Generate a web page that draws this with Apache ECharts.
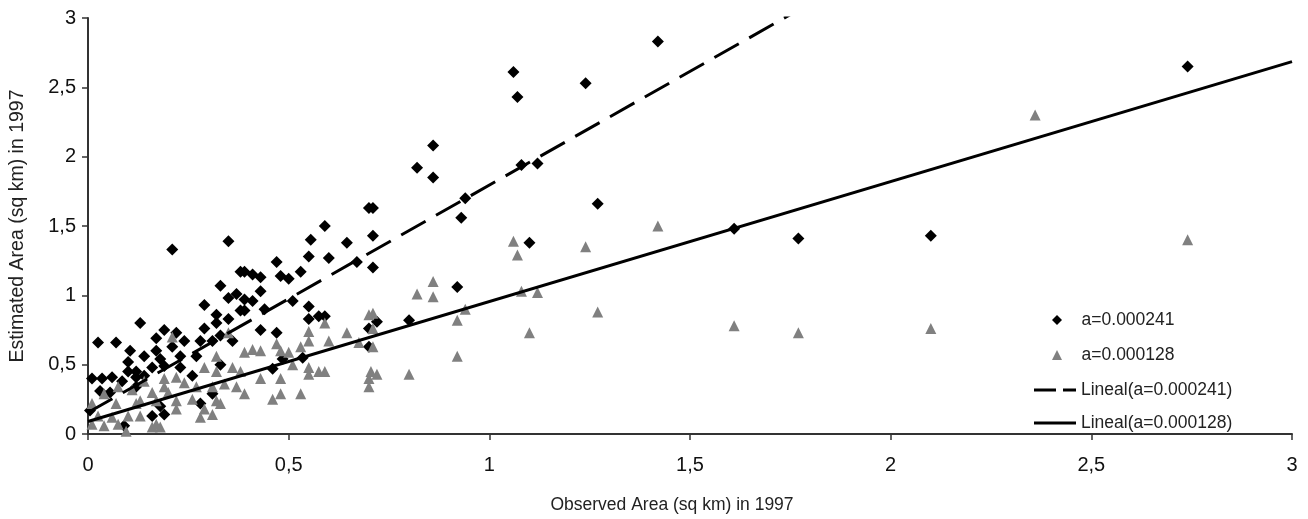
<!DOCTYPE html>
<html>
<head>
<meta charset="utf-8">
<script src="https://cdn.jsdelivr.net/npm/echarts@6/dist/echarts.min.js"></script>
<style>
  html, body { margin: 0; padding: 0; background: #fff; }
  #eChart { width: 1308px; height: 519px; }
</style>
</head>
<body>
<div id="eChart"></div>
<script>
// observed vs estimated area, a=0.000241 (diamonds)
const seriesA = [
  [2.74, 2.65], [1.06, 2.61], [1.07, 2.43], [1.24, 2.53], [1.42, 2.83], [1.08, 1.94],
  [1.12, 1.95], [1.27, 1.66], [1.10, 1.38], [1.61, 1.48], [1.77, 1.41], [2.10, 1.43],
  [0.94, 1.70], [0.93, 1.56], [0.92, 1.06], [0.80, 0.82], [0.86, 2.08], [0.82, 1.92],
  [0.86, 1.85], [0.70, 1.63], [0.71, 1.63], [0.59, 1.50], [0.555, 1.40], [0.645, 1.38],
  [0.71, 1.43], [0.47, 1.24], [0.55, 1.28], [0.60, 1.27], [0.67, 1.24], [0.71, 1.20],
  [0.53, 1.17], [0.48, 1.14], [0.50, 1.12], [0.39, 1.17], [0.41, 1.15], [0.43, 1.13],
  [0.43, 1.03], [0.39, 0.97], [0.41, 0.96], [0.39, 0.89], [0.44, 0.90], [0.51, 0.96],
  [0.55, 0.92], [0.55, 0.83], [0.575, 0.85], [0.59, 0.85], [0.43, 0.75], [0.47, 0.73],
  [0.70, 0.76], [0.72, 0.81], [0.485, 0.54], [0.535, 0.55], [0.46, 0.47], [0.70, 0.63],
  [0.21, 1.33], [0.35, 1.39], [0.38, 1.17], [0.33, 1.07], [0.35, 0.98], [0.37, 1.01],
  [0.38, 0.89], [0.29, 0.93], [0.32, 0.86], [0.35, 0.83], [0.32, 0.80], [0.29, 0.76],
  [0.13, 0.80], [0.19, 0.75], [0.22, 0.73], [0.17, 0.69], [0.24, 0.67], [0.21, 0.63],
  [0.28, 0.67], [0.31, 0.67], [0.33, 0.71], [0.36, 0.67], [0.025, 0.66], [0.07, 0.66],
  [0.105, 0.60], [0.14, 0.56], [0.17, 0.60], [0.18, 0.54], [0.19, 0.49], [0.23, 0.56],
  [0.27, 0.56], [0.23, 0.48], [0.10, 0.52], [0.16, 0.48], [0.12, 0.45], [0.10, 0.45],
  [0.01, 0.40], [0.035, 0.40], [0.06, 0.41], [0.085, 0.38], [0.12, 0.41], [0.14, 0.42],
  [0.26, 0.42], [0.33, 0.50], [0.03, 0.31], [0.055, 0.30], [0.12, 0.34], [0.31, 0.29],
  [0.28, 0.22], [0.18, 0.20], [0.19, 0.14], [0.16, 0.13], [0.09, 0.06], [0.005, 0.17]
];

// a=0.000128 (triangles)
const seriesB = [
  [2.74, 1.40], [2.36, 2.30], [1.06, 1.39], [1.07, 1.29], [1.24, 1.35], [1.42, 1.50],
  [1.08, 1.03], [1.12, 1.02], [1.27, 0.88], [1.10, 0.73], [1.61, 0.78], [1.77, 0.73],
  [2.10, 0.76], [0.86, 1.10], [0.82, 1.01], [0.86, 0.99], [0.94, 0.90], [0.92, 0.82],
  [0.92, 0.56], [0.80, 0.43], [0.70, 0.86], [0.71, 0.87], [0.71, 0.76], [0.71, 0.63],
  [0.705, 0.45], [0.72, 0.43], [0.70, 0.40], [0.70, 0.34], [0.59, 0.80], [0.645, 0.73],
  [0.60, 0.67], [0.55, 0.74], [0.55, 0.67], [0.53, 0.63], [0.50, 0.59], [0.47, 0.65],
  [0.48, 0.60], [0.43, 0.60], [0.51, 0.50], [0.55, 0.48], [0.55, 0.43], [0.575, 0.45],
  [0.59, 0.45], [0.48, 0.40], [0.43, 0.40], [0.48, 0.29], [0.46, 0.25], [0.53, 0.29],
  [0.39, 0.29], [0.39, 0.59], [0.41, 0.61], [0.675, 0.66], [0.21, 0.70], [0.35, 0.73],
  [0.32, 0.56], [0.29, 0.48], [0.32, 0.45], [0.36, 0.48], [0.38, 0.45], [0.19, 0.40],
  [0.22, 0.41], [0.14, 0.38], [0.24, 0.37], [0.27, 0.34], [0.31, 0.34], [0.34, 0.36],
  [0.37, 0.34], [0.075, 0.34], [0.11, 0.32], [0.04, 0.29], [0.16, 0.30], [0.20, 0.30],
  [0.32, 0.24], [0.22, 0.24], [0.26, 0.25], [0.01, 0.22], [0.07, 0.22], [0.12, 0.22],
  [0.17, 0.24], [0.29, 0.18], [0.33, 0.22], [0.22, 0.18], [0.31, 0.14], [0.28, 0.12],
  [0.025, 0.13], [0.06, 0.12], [0.10, 0.13], [0.13, 0.13], [0.01, 0.07], [0.04, 0.06],
  [0.075, 0.07], [0.17, 0.07], [0.16, 0.05], [0.18, 0.05], [0.095, 0.02], [0.13, 0.24],
  [0.19, 0.34]
];

// linear trend lines (slope, intercept)
const trendA = { slope: 1.64, intercept: 0.155 };
const trendB = { slope: 0.865, intercept: 0.09 };
const trendXRange = [0, 3];

const namesSeries = ["a=0.000241", "a=0.000128", "Lineal(a=0.000241)", "Lineal(a=0.000128)"];

const trendData = (t) => trendXRange.map((x) => [x, t.intercept + t.slope * x]);
const comma = (v) => String(v).replace(".", ",");

const FONT = "Liberation Sans";

const axisCommon = {
  type: "value",
  min: 0,
  max: 3,
  interval: 0.5,
  splitLine: { show: false },
  axisLine: { show: true, lineStyle: { color: "#333", width: 2 } },
  axisTick: { show: true, inside: false, length: 6, lineStyle: { color: "#333", width: 1.5 } },
  axisLabel: { formatter: comma, color: "#111", fontSize: 20, fontFamily: FONT },
  nameLocation: "middle",
};

const legendText = { fontSize: 17.5, color: "#222", fontFamily: FONT };

// one legend block per row so every row sits where the original has it
const legendRow = (name, left, top, extra) => ({
  orient: "vertical",
  left,
  top,
  padding: 0,
  textStyle: legendText,
  data: [name],
  ...extra,
});

const myChart = echarts.init(document.getElementById("eChart"), null, { renderer: "canvas" });
myChart.setOption({
  animation: false,
  backgroundColor: "#fff",
  grid: { left: 87, right: 16, top: 18, bottom: 84 },
  xAxis: {
    ...axisCommon,
    name: "Observed Area (sq km) in 1997",
    nameGap: 62,
    nameTextStyle: { color: "#222", fontSize: 17.5, fontFamily: FONT, padding: [0, 36, 0, 0] },
    axisLabel: { ...axisCommon.axisLabel, margin: 21 },
  },
  yAxis: {
    ...axisCommon,
    name: "Estimated Area (sq km) in 1997",
    nameGap: 60,
    nameTextStyle: { color: "#222", fontSize: 19.5, fontFamily: FONT },
    axisLabel: { ...axisCommon.axisLabel, margin: 12 },
  },
  legend: [
    legendRow(namesSeries[0], 1052, 311, {
      itemWidth: 10, itemHeight: 10, icon: "diamond",
      formatter: "   {name}",
    }),
    legendRow(namesSeries[1], 1052, 346, {
      itemWidth: 10, itemHeight: 10, icon: "triangle",
      formatter: "   {name}",
    }),
    legendRow(namesSeries[2], 1034, 381, {
      itemWidth: 42, itemHeight: 3,
      icon: "path://M0,0L22,0L22,3L0,3Z M29,0L42,0L42,3L29,3Z",
    }),
    legendRow(namesSeries[3], 1034, 414, {
      itemWidth: 42, itemHeight: 3,
      icon: "path://M0,0L42,0L42,3L0,3Z",
    }),
  ],
  series: [
    {
      name: namesSeries[0],
      type: "scatter",
      symbol: "diamond",
      symbolSize: 12,
      itemStyle: { color: "#000", opacity: 1 },
      data: seriesA,
      z: 2,
    },
    {
      name: namesSeries[1],
      type: "scatter",
      symbol: "triangle",
      symbolSize: 11,
      itemStyle: { color: "#808080", opacity: 1 },
      data: seriesB,
      z: 3,
    },
    {
      name: namesSeries[2],
      type: "line",
      symbol: "none",
      clip: true,
      lineStyle: { color: "#000", width: 3, type: [28, 12] },
      itemStyle: { color: "#000" },
      data: trendData(trendA),
      z: 4,
    },
    {
      name: namesSeries[3],
      type: "line",
      symbol: "none",
      clip: true,
      lineStyle: { color: "#000", width: 3 },
      itemStyle: { color: "#000" },
      data: trendData(trendB),
      z: 4,
    },
  ],
});
</script>
</body>
</html>
